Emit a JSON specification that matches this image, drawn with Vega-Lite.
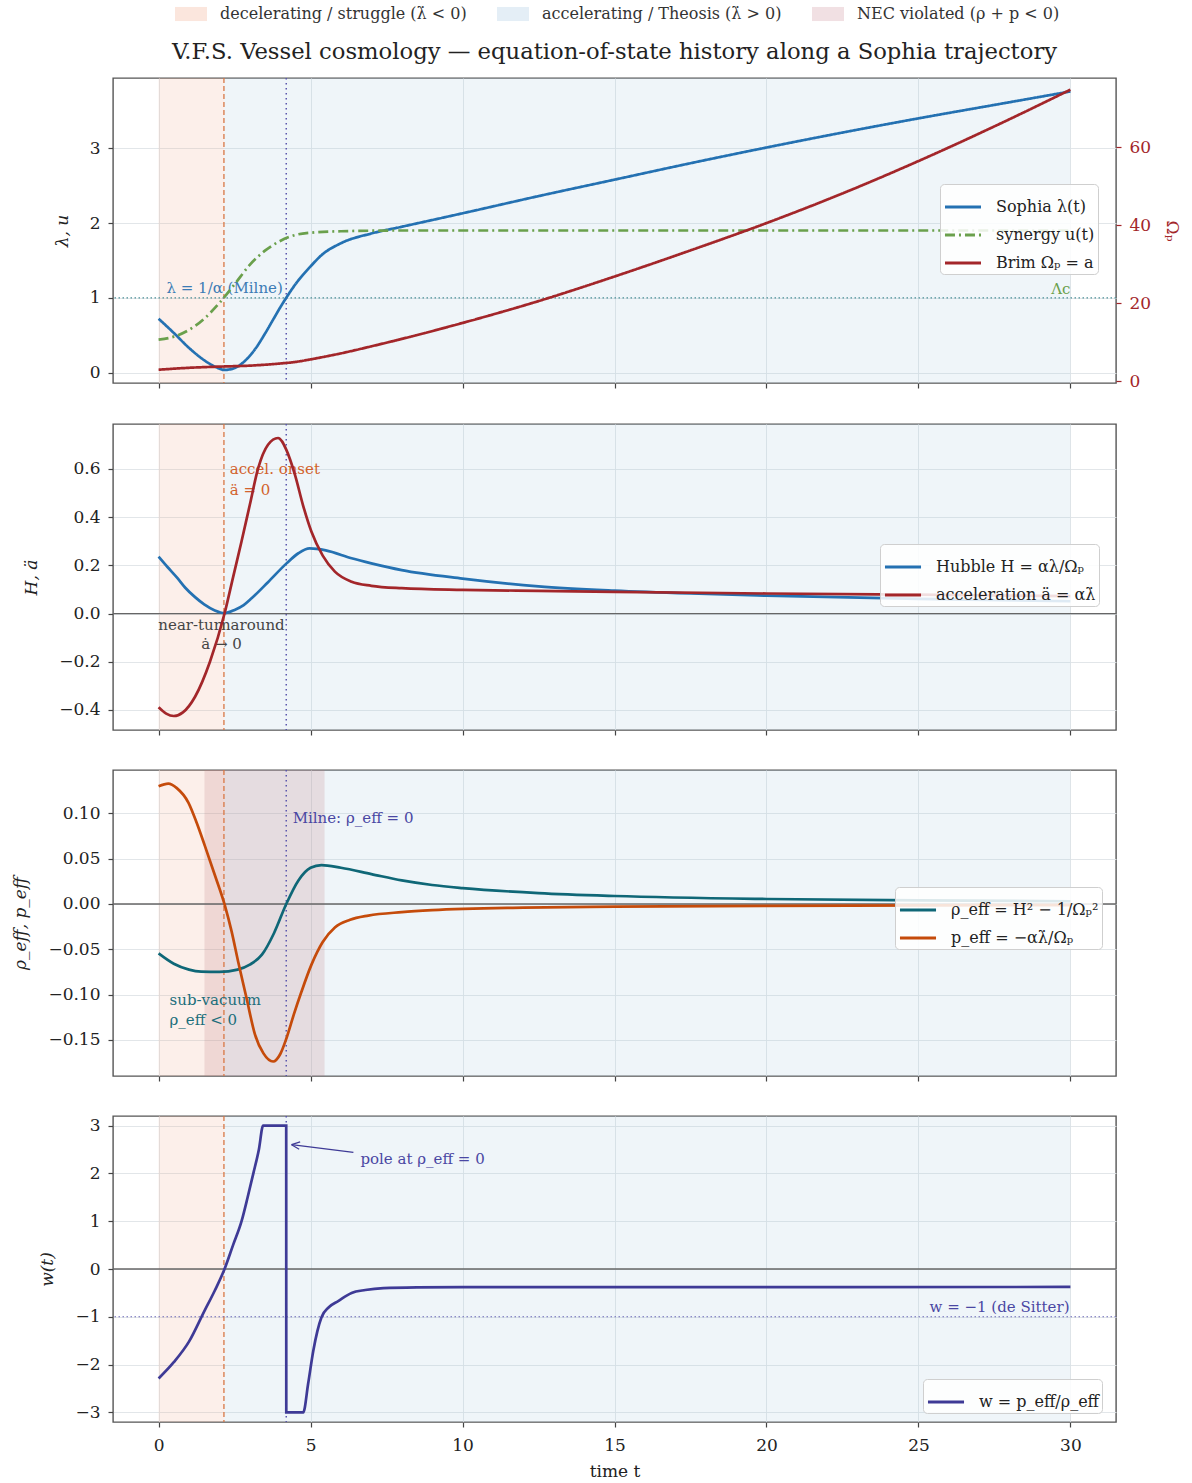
{
"$schema": "https://vega.github.io/schema/vega-lite/v6.json",
"background": "white",
"padding": {"left": 11, "top": 5, "right": 5, "bottom": 5},
"config": {
  "font": "DejaVu Serif",
  "view": {"stroke": "#555", "strokeWidth": 1.4},
  "axis": {"labelFont": "DejaVu Serif", "labelFontSize": 17, "labelColor": "#222", "titleFont": "DejaVu Serif", "titleFontSize": 17, "titleFontWeight": "normal", "titleColor": "#222", "tickColor": "#444", "tickSize": 5, "tickWidth": 1.2, "domain": false, "gridColor": "#dfe3e6", "gridWidth": 0.9},
  "axisY": {"labelPadding": 8, "titlePadding": 18},
  "axisX": {"labelPadding": 10, "titlePadding": 10},
  "legend": {"labelFont": "DejaVu Serif", "labelFontSize": 16, "labelColor": "#222", "labelLimit": 0, "symbolType": "stroke", "symbolSize": 1300, "symbolStrokeWidth": 3, "rowPadding": 0, "padding": 3, "strokeColor": "#cfcfcf", "fillColor": "rgba(255,255,255,0.85)", "cornerRadius": 4, "labelOffset": 13},
  "text": {"font": "DejaVu Serif", "fontSize": 15}
},
"datasets": {
  "regions": [{"t": 0, "t2": 2.15, "r": "decel"}, {"t": 2.15, "t2": 30, "r": "accel"}, {"t": 1.51, "t2": 5.46, "r": "nec"}],
  "onset": [{"t": 2.15}],
  "milne": [{"t": 4.2}],
  "zero": [{"v": 0}],
  "one": [{"v": 1}],
  "m1": [{"v": -1}],
  "a1": [{"t": 0.26, "v": 1, "txt": "λ = 1/α (Milne)"}],
  "a1b": [{"t": 30, "v": 1, "txt": "Λc"}],
  "a2": [{"t": 2.34, "v": 0.6, "txt": "accel. onset\nä = 0"}],
  "a2b": [{"t": 2.07, "v": -0.0455, "txt": "near-turnaround\nȧ → 0"}],
  "a3": [{"t": 4.41, "v": 0.0945, "txt": "Milne: ρ_eff = 0"}],
  "a3b": [{"t": 0.36, "v": -0.1066, "txt": "sub-vacuum\nρ_eff < 0"}],
  "a4": [{"t": 6.64, "v": 2.31, "txt": "pole at ρ_eff = 0"}],
  "a4b": [{"t": 29.97, "v": -1, "txt": "w = −1 (de Sitter)"}],
  "arrow": [{"t": 6.41, "v": 2.44, "t2": 4.375, "v2": 2.6}, {"t": 4.375, "v": 2.6, "t2": 4.625, "v2": 2.504}, {"t": 4.375, "v": 2.6, "t2": 4.657, "v2": 2.66}],
  "p1": [
    {"s": "Sophia λ(t)", "t": 0, "v": 0.72}, {"s": "Sophia λ(t)", "t": 0.5, "v": 0.53}, {"s": "Sophia λ(t)", "t": 1, "v": 0.33}, {"s": "Sophia λ(t)", "t": 1.5, "v": 0.165}, {"s": "Sophia λ(t)", "t": 1.9, "v": 0.07}, {"s": "Sophia λ(t)", "t": 2.17, "v": 0.035}, {"s": "Sophia λ(t)", "t": 2.5, "v": 0.06}, {"s": "Sophia λ(t)", "t": 2.8, "v": 0.14}, {"s": "Sophia λ(t)", "t": 3.17, "v": 0.31}, {"s": "Sophia λ(t)", "t": 3.5, "v": 0.52}, {"s": "Sophia λ(t)", "t": 3.8, "v": 0.73}, {"s": "Sophia λ(t)", "t": 4.0, "v": 0.87}, {"s": "Sophia λ(t)", "t": 4.2, "v": 1.0}, {"s": "Sophia λ(t)", "t": 4.5, "v": 1.18}, {"s": "Sophia λ(t)", "t": 5.0, "v": 1.42}, {"s": "Sophia λ(t)", "t": 5.36, "v": 1.57}, {"s": "Sophia λ(t)", "t": 6, "v": 1.73}, {"s": "Sophia λ(t)", "t": 7, "v": 1.86}, {"s": "Sophia λ(t)", "t": 8, "v": 1.95}, {"s": "Sophia λ(t)", "t": 10, "v": 2.13}, {"s": "Sophia λ(t)", "t": 12.5, "v": 2.36}, {"s": "Sophia λ(t)", "t": 15, "v": 2.58}, {"s": "Sophia λ(t)", "t": 17.5, "v": 2.8}, {"s": "Sophia λ(t)", "t": 20, "v": 3.01}, {"s": "Sophia λ(t)", "t": 22.5, "v": 3.21}, {"s": "Sophia λ(t)", "t": 25, "v": 3.4}, {"s": "Sophia λ(t)", "t": 27.5, "v": 3.58}, {"s": "Sophia λ(t)", "t": 30, "v": 3.76},
    {"s": "synergy u(t)", "t": 0, "v": 0.44}, {"s": "synergy u(t)", "t": 0.5, "v": 0.48}, {"s": "synergy u(t)", "t": 1, "v": 0.57}, {"s": "synergy u(t)", "t": 1.5, "v": 0.72}, {"s": "synergy u(t)", "t": 2, "v": 0.93}, {"s": "synergy u(t)", "t": 2.5, "v": 1.18}, {"s": "synergy u(t)", "t": 3, "v": 1.44}, {"s": "synergy u(t)", "t": 3.5, "v": 1.63}, {"s": "synergy u(t)", "t": 4, "v": 1.76}, {"s": "synergy u(t)", "t": 4.5, "v": 1.84}, {"s": "synergy u(t)", "t": 5, "v": 1.87}, {"s": "synergy u(t)", "t": 6, "v": 1.89}, {"s": "synergy u(t)", "t": 8, "v": 1.9}, {"s": "synergy u(t)", "t": 12, "v": 1.9}, {"s": "synergy u(t)", "t": 20, "v": 1.9}, {"s": "synergy u(t)", "t": 30, "v": 1.9}
  ],
  "p1r": [
    {"s": "Brim Ωₚ = a", "t": 0, "v": 3.0}, {"s": "Brim Ωₚ = a", "t": 1, "v": 3.5}, {"s": "Brim Ωₚ = a", "t": 2, "v": 3.8}, {"s": "Brim Ωₚ = a", "t": 3, "v": 4.05}, {"s": "Brim Ωₚ = a", "t": 4, "v": 4.6}, {"s": "Brim Ωₚ = a", "t": 4.5, "v": 5.0}, {"s": "Brim Ωₚ = a", "t": 5, "v": 5.65}, {"s": "Brim Ωₚ = a", "t": 5.5, "v": 6.4}, {"s": "Brim Ωₚ = a", "t": 6, "v": 7.2}, {"s": "Brim Ωₚ = a", "t": 7, "v": 9.0}, {"s": "Brim Ωₚ = a", "t": 8, "v": 10.9}, {"s": "Brim Ωₚ = a", "t": 10, "v": 15.0}, {"s": "Brim Ωₚ = a", "t": 12.5, "v": 20.6}, {"s": "Brim Ωₚ = a", "t": 15, "v": 26.9}, {"s": "Brim Ωₚ = a", "t": 17.5, "v": 33.6}, {"s": "Brim Ωₚ = a", "t": 20, "v": 40.6}, {"s": "Brim Ωₚ = a", "t": 22.5, "v": 48.2}, {"s": "Brim Ωₚ = a", "t": 25, "v": 56.5}, {"s": "Brim Ωₚ = a", "t": 27.5, "v": 65.4}, {"s": "Brim Ωₚ = a", "t": 30, "v": 74.8}
  ],
  "p2": [
    {"s": "Hubble H = αλ/Ωₚ", "t": 0, "v": 0.236}, {"s": "Hubble H = αλ/Ωₚ", "t": 0.3, "v": 0.192}, {"s": "Hubble H = αλ/Ωₚ", "t": 0.6, "v": 0.15}, {"s": "Hubble H = αλ/Ωₚ", "t": 0.87, "v": 0.108}, {"s": "Hubble H = αλ/Ωₚ", "t": 1.2, "v": 0.068}, {"s": "Hubble H = αλ/Ωₚ", "t": 1.5, "v": 0.038}, {"s": "Hubble H = αλ/Ωₚ", "t": 1.85, "v": 0.013}, {"s": "Hubble H = αλ/Ωₚ", "t": 2.17, "v": 0.002}, {"s": "Hubble H = αλ/Ωₚ", "t": 2.5, "v": 0.015}, {"s": "Hubble H = αλ/Ωₚ", "t": 2.8, "v": 0.035}, {"s": "Hubble H = αλ/Ωₚ", "t": 3.06, "v": 0.063}, {"s": "Hubble H = αλ/Ωₚ", "t": 3.6, "v": 0.13}, {"s": "Hubble H = αλ/Ωₚ", "t": 4.21, "v": 0.208}, {"s": "Hubble H = αλ/Ωₚ", "t": 4.6, "v": 0.25}, {"s": "Hubble H = αλ/Ωₚ", "t": 4.97, "v": 0.27}, {"s": "Hubble H = αλ/Ωₚ", "t": 5.5, "v": 0.262}, {"s": "Hubble H = αλ/Ωₚ", "t": 6.35, "v": 0.229}, {"s": "Hubble H = αλ/Ωₚ", "t": 7, "v": 0.208}, {"s": "Hubble H = αλ/Ωₚ", "t": 8, "v": 0.18}, {"s": "Hubble H = αλ/Ωₚ", "t": 10, "v": 0.145}, {"s": "Hubble H = αλ/Ωₚ", "t": 12.5, "v": 0.113}, {"s": "Hubble H = αλ/Ωₚ", "t": 15, "v": 0.095}, {"s": "Hubble H = αλ/Ωₚ", "t": 17.5, "v": 0.083}, {"s": "Hubble H = αλ/Ωₚ", "t": 20, "v": 0.074}, {"s": "Hubble H = αλ/Ωₚ", "t": 25, "v": 0.061}, {"s": "Hubble H = αλ/Ωₚ", "t": 30, "v": 0.051},
    {"s": "acceleration ä = αλ̇", "t": 0, "v": -0.389}, {"s": "acceleration ä = αλ̇", "t": 0.25, "v": -0.415}, {"s": "acceleration ä = αλ̇", "t": 0.5, "v": -0.425}, {"s": "acceleration ä = αλ̇", "t": 0.8, "v": -0.41}, {"s": "acceleration ä = αλ̇", "t": 1.2, "v": -0.345}, {"s": "acceleration ä = αλ̇", "t": 1.69, "v": -0.2}, {"s": "acceleration ä = αλ̇", "t": 2.17, "v": 0}, {"s": "acceleration ä = αλ̇", "t": 2.45, "v": 0.15}, {"s": "acceleration ä = αλ̇", "t": 2.73, "v": 0.3}, {"s": "acceleration ä = αλ̇", "t": 3.0, "v": 0.45}, {"s": "acceleration ä = αλ̇", "t": 3.27, "v": 0.6}, {"s": "acceleration ä = αλ̇", "t": 3.6, "v": 0.7}, {"s": "acceleration ä = αλ̇", "t": 3.93, "v": 0.728}, {"s": "acceleration ä = αλ̇", "t": 4.2, "v": 0.68}, {"s": "acceleration ä = αλ̇", "t": 4.49, "v": 0.574}, {"s": "acceleration ä = αλ̇", "t": 4.75, "v": 0.45}, {"s": "acceleration ä = αλ̇", "t": 5.03, "v": 0.339}, {"s": "acceleration ä = αλ̇", "t": 5.4, "v": 0.24}, {"s": "acceleration ä = αλ̇", "t": 5.8, "v": 0.174}, {"s": "acceleration ä = αλ̇", "t": 6.35, "v": 0.132}, {"s": "acceleration ä = αλ̇", "t": 7, "v": 0.115}, {"s": "acceleration ä = αλ̇", "t": 8, "v": 0.105}, {"s": "acceleration ä = αλ̇", "t": 10, "v": 0.098}, {"s": "acceleration ä = αλ̇", "t": 12.5, "v": 0.094}, {"s": "acceleration ä = αλ̇", "t": 15, "v": 0.09}, {"s": "acceleration ä = αλ̇", "t": 20, "v": 0.083}, {"s": "acceleration ä = αλ̇", "t": 25, "v": 0.078}, {"s": "acceleration ä = αλ̇", "t": 30, "v": 0.072}
  ],
  "p3": [
    {"s": "ρ_eff = H² − 1/Ωₚ²", "t": 0, "v": -0.0546}, {"s": "ρ_eff = H² − 1/Ωₚ²", "t": 0.5, "v": -0.066}, {"s": "ρ_eff = H² − 1/Ωₚ²", "t": 1, "v": -0.0725}, {"s": "ρ_eff = H² − 1/Ωₚ²", "t": 1.4, "v": -0.0747}, {"s": "ρ_eff = H² − 1/Ωₚ²", "t": 2, "v": -0.075}, {"s": "ρ_eff = H² − 1/Ωₚ²", "t": 2.6, "v": -0.0725}, {"s": "ρ_eff = H² − 1/Ωₚ²", "t": 3.0, "v": -0.067}, {"s": "ρ_eff = H² − 1/Ωₚ²", "t": 3.4, "v": -0.056}, {"s": "ρ_eff = H² − 1/Ωₚ²", "t": 3.8, "v": -0.032}, {"s": "ρ_eff = H² − 1/Ωₚ²", "t": 4.2, "v": 0}, {"s": "ρ_eff = H² − 1/Ωₚ²", "t": 4.6, "v": 0.026}, {"s": "ρ_eff = H² − 1/Ωₚ²", "t": 5.0, "v": 0.04}, {"s": "ρ_eff = H² − 1/Ωₚ²", "t": 5.36, "v": 0.043}, {"s": "ρ_eff = H² − 1/Ωₚ²", "t": 6, "v": 0.04}, {"s": "ρ_eff = H² − 1/Ωₚ²", "t": 7, "v": 0.033}, {"s": "ρ_eff = H² − 1/Ωₚ²", "t": 8, "v": 0.026}, {"s": "ρ_eff = H² − 1/Ωₚ²", "t": 9, "v": 0.021}, {"s": "ρ_eff = H² − 1/Ωₚ²", "t": 10, "v": 0.0176}, {"s": "ρ_eff = H² − 1/Ωₚ²", "t": 12.5, "v": 0.012}, {"s": "ρ_eff = H² − 1/Ωₚ²", "t": 15, "v": 0.0088}, {"s": "ρ_eff = H² − 1/Ωₚ²", "t": 20, "v": 0.0055}, {"s": "ρ_eff = H² − 1/Ωₚ²", "t": 25, "v": 0.004}, {"s": "ρ_eff = H² − 1/Ωₚ²", "t": 30, "v": 0.003},
    {"s": "p_eff = −αλ̇/Ωₚ", "t": 0, "v": 0.130}, {"s": "p_eff = −αλ̇/Ωₚ", "t": 0.32, "v": 0.133}, {"s": "p_eff = −αλ̇/Ωₚ", "t": 0.6, "v": 0.128}, {"s": "p_eff = −αλ̇/Ωₚ", "t": 0.98, "v": 0.112}, {"s": "p_eff = −αλ̇/Ωₚ", "t": 1.25, "v": 0.09}, {"s": "p_eff = −αλ̇/Ωₚ", "t": 1.52, "v": 0.0645}, {"s": "p_eff = −αλ̇/Ωₚ", "t": 1.85, "v": 0.032}, {"s": "p_eff = −αλ̇/Ωₚ", "t": 2.18, "v": -0.0015}, {"s": "p_eff = −αλ̇/Ωₚ", "t": 2.4, "v": -0.03}, {"s": "p_eff = −αλ̇/Ωₚ", "t": 2.62, "v": -0.064}, {"s": "p_eff = −αλ̇/Ωₚ", "t": 2.9, "v": -0.105}, {"s": "p_eff = −αλ̇/Ωₚ", "t": 3.17, "v": -0.144}, {"s": "p_eff = −αλ̇/Ωₚ", "t": 3.45, "v": -0.165}, {"s": "p_eff = −αλ̇/Ωₚ", "t": 3.77, "v": -0.174}, {"s": "p_eff = −αλ̇/Ωₚ", "t": 4.0, "v": -0.166}, {"s": "p_eff = −αλ̇/Ωₚ", "t": 4.21, "v": -0.148}, {"s": "p_eff = −αλ̇/Ωₚ", "t": 4.45, "v": -0.122}, {"s": "p_eff = −αλ̇/Ωₚ", "t": 4.7, "v": -0.097}, {"s": "p_eff = −αλ̇/Ωₚ", "t": 5.03, "v": -0.067}, {"s": "p_eff = −αλ̇/Ωₚ", "t": 5.4, "v": -0.042}, {"s": "p_eff = −αλ̇/Ωₚ", "t": 5.8, "v": -0.026}, {"s": "p_eff = −αλ̇/Ωₚ", "t": 6.3, "v": -0.0175}, {"s": "p_eff = −αλ̇/Ωₚ", "t": 6.9, "v": -0.0128}, {"s": "p_eff = −αλ̇/Ωₚ", "t": 8, "v": -0.009}, {"s": "p_eff = −αλ̇/Ωₚ", "t": 9, "v": -0.0068}, {"s": "p_eff = −αλ̇/Ωₚ", "t": 12, "v": -0.004}, {"s": "p_eff = −αλ̇/Ωₚ", "t": 15, "v": -0.003}, {"s": "p_eff = −αλ̇/Ωₚ", "t": 20, "v": -0.002}, {"s": "p_eff = −αλ̇/Ωₚ", "t": 30, "v": -0.0012}
  ],
  "p4": [
    {"s": "w = p_eff/ρ_eff", "i": 1, "t": 0, "v": -2.29}, {"s": "w = p_eff/ρ_eff", "i": 2, "t": 0.5, "v": -1.95}, {"s": "w = p_eff/ρ_eff", "i": 3, "t": 1.0, "v": -1.52}, {"s": "w = p_eff/ρ_eff", "i": 4, "t": 1.51, "v": -0.875}, {"s": "w = p_eff/ρ_eff", "i": 5, "t": 1.85, "v": -0.45}, {"s": "w = p_eff/ρ_eff", "i": 6, "t": 2.17, "v": 0}, {"s": "w = p_eff/ρ_eff", "i": 7, "t": 2.45, "v": 0.5}, {"s": "w = p_eff/ρ_eff", "i": 8, "t": 2.73, "v": 1.0}, {"s": "w = p_eff/ρ_eff", "i": 9, "t": 2.93, "v": 1.5}, {"s": "w = p_eff/ρ_eff", "i": 10, "t": 3.11, "v": 1.98}, {"s": "w = p_eff/ρ_eff", "i": 11, "t": 3.3, "v": 2.5}, {"s": "w = p_eff/ρ_eff", "i": 12, "t": 3.44, "v": 3.0}, {"s": "w = p_eff/ρ_eff", "i": 13, "t": 4.199, "v": 3.0}, {"s": "w = p_eff/ρ_eff", "i": 14, "t": 4.201, "v": -3.0}, {"s": "w = p_eff/ρ_eff", "i": 15, "t": 4.76, "v": -3.0}, {"s": "w = p_eff/ρ_eff", "i": 16, "t": 4.92, "v": -2.4}, {"s": "w = p_eff/ρ_eff", "i": 17, "t": 5.09, "v": -1.71}, {"s": "w = p_eff/ρ_eff", "i": 18, "t": 5.36, "v": -1.01}, {"s": "w = p_eff/ρ_eff", "i": 19, "t": 5.6, "v": -0.8}, {"s": "w = p_eff/ρ_eff", "i": 20, "t": 5.91, "v": -0.67}, {"s": "w = p_eff/ρ_eff", "i": 21, "t": 6.35, "v": -0.5}, {"s": "w = p_eff/ρ_eff", "i": 22, "t": 6.8, "v": -0.44}, {"s": "w = p_eff/ρ_eff", "i": 23, "t": 7.4, "v": -0.4}, {"s": "w = p_eff/ρ_eff", "i": 24, "t": 8.5, "v": -0.385}, {"s": "w = p_eff/ρ_eff", "i": 25, "t": 10, "v": -0.38}, {"s": "w = p_eff/ρ_eff", "i": 26, "t": 20, "v": -0.38}, {"s": "w = p_eff/ρ_eff", "i": 27, "t": 30, "v": -0.375}
  ]
},
"spacing": 16,
"resolve": {"scale": {"fill": "independent", "stroke": "independent", "strokeDash": "independent"}},
"vconcat": [
  {
    "width": 1003, "height": 1,
    "view": {"stroke": null},
    "data": {"values": [{"r": "decelerating / struggle (λ̇ < 0)"}, {"r": "accelerating / Theosis (λ̇ > 0)"}, {"r": "NEC violated (ρ + p < 0)"}]},
    "mark": {"type": "rect", "opacity": 0},
    "encoding": {
      "fill": {"field": "r", "type": "nominal",
        "scale": {"domain": ["decelerating / struggle (λ̇ < 0)", "accelerating / Theosis (λ̇ > 0)", "NEC violated (ρ + p < 0)"], "range": ["#fbe6dd", "#e4eef6", "#f1e0e3"]},
        "legend": {"orient": "none", "legendX": 70, "legendY": 0, "direction": "horizontal", "columns": 3, "title": null, "symbolType": "M-2,-0.88H2V0.88H-2Z", "symbolSize": 256, "symbolOpacity": 1, "symbolStrokeWidth": 0, "labelFontSize": 16, "labelColor": "#333", "columnPadding": 30, "padding": 0, "strokeColor": "transparent", "fillColor": "transparent", "labelOffset": 21}}
    }
  },
  {
    "spacing": 31,
    "resolve": {"scale": {"x": "independent", "y": "independent", "fill": "independent", "stroke": "independent", "strokeDash": "independent"}},
    "vconcat": [
      {
        "width": 1003, "height": 305,
        "title": {"text": "V.F.S. Vessel cosmology — equation-of-state history along a Sophia trajectory", "font": "DejaVu Serif", "fontSize": 22.7, "fontWeight": "normal", "color": "#222", "offset": 14, "frame": "group", "anchor": "middle"},
        "resolve": {"scale": {"y": "independent"}},
        "layer": [
          {
            "layer": [
              {"data": {"name": "regions"}, "transform": [{"filter": "datum.r != 'nec'"}], "mark": {"type": "rect", "fillOpacity": 0.2},
               "encoding": {"x": {"field": "t", "type": "quantitative", "scale": {"domain": [-1.5, 31.5], "nice": false, "zero": false}, "axis": {"values": [0, 5, 10, 15, 20, 25, 30], "labels": false, "title": null, "grid": true}}, "x2": {"field": "t2"},
                 "fill": {"field": "r", "type": "nominal", "scale": {"domain": ["decel", "accel", "nec"], "range": ["#f0af96", "#afcde1", "#bd787c"]}, "legend": null}}},
              {"data": {"name": "onset"}, "mark": {"type": "rule", "color": "#d97745", "strokeWidth": 1.3, "strokeDash": [5, 3]}, "encoding": {"x": {"field": "t", "type": "quantitative", "scale": {"domain": [-1.5, 31.5], "nice": false, "zero": false}}}},
              {"data": {"name": "milne"}, "mark": {"type": "rule", "color": "#5a56ad", "strokeWidth": 1.5, "strokeDash": [1.5, 3.5]}, "encoding": {"x": {"field": "t", "type": "quantitative", "scale": {"domain": [-1.5, 31.5], "nice": false, "zero": false}}}},
              {"data": {"name": "one"}, "mark": {"type": "rule", "color": "#4a8f96", "strokeWidth": 1.3, "strokeDash": [1.5, 2.5]}, "encoding": {"y": {"field": "v", "type": "quantitative", "scale": {"domain": [-0.14, 3.94], "nice": false, "zero": false}}}},
              {"data": {"name": "a1"}, "mark": {"type": "text", "align": "left", "baseline": "bottom", "dy": -2, "color": "#3b7bb5"},
               "encoding": {"x": {"field": "t", "type": "quantitative", "scale": {"domain": [-1.5, 31.5], "nice": false, "zero": false}}, "y": {"field": "v", "type": "quantitative", "scale": {"domain": [-0.14, 3.94], "nice": false, "zero": false}}, "text": {"field": "txt"}}},
              {"data": {"name": "a1b"}, "mark": {"type": "text", "align": "right", "baseline": "bottom", "dy": -1, "color": "#6aa04c", "fontSize": 15},
               "encoding": {"x": {"field": "t", "type": "quantitative", "scale": {"domain": [-1.5, 31.5], "nice": false, "zero": false}}, "y": {"field": "v", "type": "quantitative", "scale": {"domain": [-0.14, 3.94], "nice": false, "zero": false}}, "text": {"field": "txt"}}},
              {"data": {"name": "p1"}, "mark": {"type": "line", "strokeWidth": 2.7, "interpolate": "monotone"},
               "encoding": {"x": {"field": "t", "type": "quantitative", "scale": {"domain": [-1.5, 31.5], "nice": false, "zero": false}},
                 "y": {"field": "v", "type": "quantitative", "scale": {"domain": [-0.14, 3.94], "nice": false, "zero": false}, "axis": {"values": [0, 1, 2, 3], "format": "d", "title": "λ, u", "titleFontStyle": "italic", "grid": true}},
                 "stroke": {"field": "s", "type": "nominal", "scale": {"domain": ["Sophia λ(t)", "synergy u(t)", "Brim Ωₚ = a"], "range": ["#2471b2", "#6aa04c", "#a3262a"]}, "legend": {"orient": "none", "legendX": 827, "legendY": 106, "title": null}},
                 "strokeDash": {"field": "s", "type": "nominal", "scale": {"domain": ["Sophia λ(t)", "synergy u(t)", "Brim Ωₚ = a"], "range": [[1, 0], [10, 4, 2, 4], [1, 0]]}, "legend": {"orient": "none", "legendX": 827, "legendY": 106, "title": null}}}}
            ]
          },
          {
            "layer": [
              {"data": {"name": "p1r"}, "mark": {"type": "line", "strokeWidth": 2.7, "interpolate": "monotone"},
               "encoding": {"x": {"field": "t", "type": "quantitative", "scale": {"domain": [-1.5, 31.5], "nice": false, "zero": false}},
                 "y": {"field": "v", "type": "quantitative", "scale": {"domain": [-0.4, 77.8], "nice": false, "zero": false}, "axis": {"orient": "right", "values": [0, 20, 40, 60], "title": "Ωₚ", "grid": false, "labelColor": "#a3262a", "tickColor": "#a3262a", "titleColor": "#a3262a", "titlePadding": 12}},
                 "stroke": {"field": "s", "type": "nominal", "scale": {"domain": ["Sophia λ(t)", "synergy u(t)", "Brim Ωₚ = a"], "range": ["#2471b2", "#6aa04c", "#a3262a"]}, "legend": {"orient": "none", "legendX": 827, "legendY": 106, "title": null}},
                 "strokeDash": {"field": "s", "type": "nominal", "scale": {"domain": ["Sophia λ(t)", "synergy u(t)", "Brim Ωₚ = a"], "range": [[1, 0], [10, 4, 2, 4], [1, 0]]}, "legend": {"orient": "none", "legendX": 827, "legendY": 106, "title": null}}}}
            ]
          }
        ]
      },
      {
        "width": 1003, "height": 306,
        "layer": [
          {"data": {"name": "regions"}, "transform": [{"filter": "datum.r != 'nec'"}], "mark": {"type": "rect", "fillOpacity": 0.2},
           "encoding": {"x": {"field": "t", "type": "quantitative", "scale": {"domain": [-1.5, 31.5], "nice": false, "zero": false}, "axis": {"values": [0, 5, 10, 15, 20, 25, 30], "labels": false, "title": null, "grid": true}}, "x2": {"field": "t2"},
             "fill": {"field": "r", "type": "nominal", "scale": {"domain": ["decel", "accel", "nec"], "range": ["#f0af96", "#afcde1", "#bd787c"]}, "legend": null}}},
          {"data": {"name": "onset"}, "mark": {"type": "rule", "color": "#d97745", "strokeWidth": 1.3, "strokeDash": [5, 3]}, "encoding": {"x": {"field": "t", "type": "quantitative", "scale": {"domain": [-1.5, 31.5], "nice": false, "zero": false}}}},
          {"data": {"name": "milne"}, "mark": {"type": "rule", "color": "#5a56ad", "strokeWidth": 1.5, "strokeDash": [1.5, 3.5]}, "encoding": {"x": {"field": "t", "type": "quantitative", "scale": {"domain": [-1.5, 31.5], "nice": false, "zero": false}}}},
          {"data": {"name": "zero"}, "mark": {"type": "rule", "color": "#666", "strokeWidth": 1.3}, "encoding": {"y": {"field": "v", "type": "quantitative", "scale": {"domain": [-0.483, 0.786], "nice": false, "zero": false}}}},
          {"data": {"name": "a2"}, "mark": {"type": "text", "align": "left", "baseline": "middle", "lineBreak": "\n", "lineHeight": 21, "color": "#d2622d"},
           "encoding": {"x": {"field": "t", "type": "quantitative", "scale": {"domain": [-1.5, 31.5], "nice": false, "zero": false}}, "y": {"field": "v", "type": "quantitative", "scale": {"domain": [-0.483, 0.786], "nice": false, "zero": false}}, "text": {"field": "txt"}}},
          {"data": {"name": "a2b"}, "mark": {"type": "text", "align": "center", "baseline": "middle", "lineBreak": "\n", "lineHeight": 19, "color": "#444"},
           "encoding": {"x": {"field": "t", "type": "quantitative", "scale": {"domain": [-1.5, 31.5], "nice": false, "zero": false}}, "y": {"field": "v", "type": "quantitative", "scale": {"domain": [-0.483, 0.786], "nice": false, "zero": false}}, "text": {"field": "txt"}}},
          {"data": {"name": "p2"}, "mark": {"type": "line", "strokeWidth": 2.7, "interpolate": "monotone"},
           "encoding": {"x": {"field": "t", "type": "quantitative", "scale": {"domain": [-1.5, 31.5], "nice": false, "zero": false}},
             "y": {"field": "v", "type": "quantitative", "scale": {"domain": [-0.483, 0.786], "nice": false, "zero": false}, "axis": {"values": [-0.4, -0.2, 0, 0.2, 0.4, 0.6], "format": ".1f", "title": "H, ä", "titleFontStyle": "italic", "grid": true}},
             "stroke": {"field": "s", "type": "nominal", "scale": {"domain": ["Hubble H = αλ/Ωₚ", "acceleration ä = αλ̇"], "range": ["#2471b2", "#a3262a"]}, "legend": {"orient": "none", "legendX": 767, "legendY": 120, "title": null}}}}
        ]
      },
      {
        "width": 1003, "height": 306,
        "layer": [
          {"data": {"name": "regions"}, "mark": {"type": "rect", "fillOpacity": 0.2},
           "encoding": {"x": {"field": "t", "type": "quantitative", "scale": {"domain": [-1.5, 31.5], "nice": false, "zero": false}, "axis": {"values": [0, 5, 10, 15, 20, 25, 30], "labels": false, "title": null, "grid": true}}, "x2": {"field": "t2"},
             "fill": {"field": "r", "type": "nominal", "scale": {"domain": ["decel", "accel", "nec"], "range": ["#f0af96", "#afcde1", "#bd787c"]}, "legend": null}}},
          {"data": {"name": "onset"}, "mark": {"type": "rule", "color": "#d97745", "strokeWidth": 1.3, "strokeDash": [5, 3]}, "encoding": {"x": {"field": "t", "type": "quantitative", "scale": {"domain": [-1.5, 31.5], "nice": false, "zero": false}}}},
          {"data": {"name": "milne"}, "mark": {"type": "rule", "color": "#5a56ad", "strokeWidth": 1.5, "strokeDash": [1.5, 3.5]}, "encoding": {"x": {"field": "t", "type": "quantitative", "scale": {"domain": [-1.5, 31.5], "nice": false, "zero": false}}}},
          {"data": {"name": "zero"}, "mark": {"type": "rule", "color": "#666", "strokeWidth": 1.3}, "encoding": {"y": {"field": "v", "type": "quantitative", "scale": {"domain": [-0.19, 0.148], "nice": false, "zero": false}}}},
          {"data": {"name": "a3"}, "mark": {"type": "text", "align": "left", "baseline": "middle", "color": "#4a47a3"},
           "encoding": {"x": {"field": "t", "type": "quantitative", "scale": {"domain": [-1.5, 31.5], "nice": false, "zero": false}}, "y": {"field": "v", "type": "quantitative", "scale": {"domain": [-0.19, 0.148], "nice": false, "zero": false}}, "text": {"field": "txt"}}},
          {"data": {"name": "a3b"}, "mark": {"type": "text", "align": "left", "baseline": "middle", "lineBreak": "\n", "lineHeight": 20, "color": "#1b6e7b"},
           "encoding": {"x": {"field": "t", "type": "quantitative", "scale": {"domain": [-1.5, 31.5], "nice": false, "zero": false}}, "y": {"field": "v", "type": "quantitative", "scale": {"domain": [-0.19, 0.148], "nice": false, "zero": false}}, "text": {"field": "txt"}}},
          {"data": {"name": "p3"}, "mark": {"type": "line", "strokeWidth": 2.7, "interpolate": "monotone"},
           "encoding": {"x": {"field": "t", "type": "quantitative", "scale": {"domain": [-1.5, 31.5], "nice": false, "zero": false}},
             "y": {"field": "v", "type": "quantitative", "scale": {"domain": [-0.19, 0.148], "nice": false, "zero": false}, "axis": {"values": [-0.15, -0.1, -0.05, 0, 0.05, 0.1], "format": ".2f", "title": "ρ_eff, p_eff", "titleFontStyle": "italic", "grid": true}},
             "stroke": {"field": "s", "type": "nominal", "scale": {"domain": ["ρ_eff = H² − 1/Ωₚ²", "p_eff = −αλ̇/Ωₚ"], "range": ["#0f6777", "#c54b0b"]}, "legend": {"orient": "none", "legendX": 782, "legendY": 117, "title": null}}}}
        ]
      },
      {
        "width": 1003, "height": 306,
        "layer": [
          {"data": {"name": "regions"}, "transform": [{"filter": "datum.r != 'nec'"}], "mark": {"type": "rect", "fillOpacity": 0.2},
           "encoding": {"x": {"field": "t", "type": "quantitative", "scale": {"domain": [-1.5, 31.5], "nice": false, "zero": false}, "axis": {"values": [0, 5, 10, 15, 20, 25, 30], "format": "d", "title": "time t", "grid": true}}, "x2": {"field": "t2"},
             "fill": {"field": "r", "type": "nominal", "scale": {"domain": ["decel", "accel", "nec"], "range": ["#f0af96", "#afcde1", "#bd787c"]}, "legend": null}}},
          {"data": {"name": "onset"}, "mark": {"type": "rule", "color": "#d97745", "strokeWidth": 1.3, "strokeDash": [5, 3]}, "encoding": {"x": {"field": "t", "type": "quantitative", "scale": {"domain": [-1.5, 31.5], "nice": false, "zero": false}}}},
          {"data": {"name": "milne"}, "mark": {"type": "rule", "color": "#5a56ad", "strokeWidth": 1.5, "strokeDash": [1.5, 3.5]}, "encoding": {"x": {"field": "t", "type": "quantitative", "scale": {"domain": [-1.5, 31.5], "nice": false, "zero": false}}}},
          {"data": {"name": "zero"}, "mark": {"type": "rule", "color": "#666", "strokeWidth": 1.3}, "encoding": {"y": {"field": "v", "type": "quantitative", "scale": {"domain": [-3.2, 3.2], "nice": false, "zero": false}}}},
          {"data": {"name": "m1"}, "mark": {"type": "rule", "color": "#6c68b8", "strokeWidth": 1.1, "strokeDash": [1.5, 2.5]}, "encoding": {"y": {"field": "v", "type": "quantitative", "scale": {"domain": [-3.2, 3.2], "nice": false, "zero": false}}}},
          {"data": {"name": "a4"}, "mark": {"type": "text", "align": "left", "baseline": "middle", "color": "#4a47a3"},
           "encoding": {"x": {"field": "t", "type": "quantitative", "scale": {"domain": [-1.5, 31.5], "nice": false, "zero": false}}, "y": {"field": "v", "type": "quantitative", "scale": {"domain": [-3.2, 3.2], "nice": false, "zero": false}}, "text": {"field": "txt"}}},
          {"data": {"name": "a4b"}, "mark": {"type": "text", "align": "right", "baseline": "bottom", "dy": -2, "color": "#4a47a3"},
           "encoding": {"x": {"field": "t", "type": "quantitative", "scale": {"domain": [-1.5, 31.5], "nice": false, "zero": false}}, "y": {"field": "v", "type": "quantitative", "scale": {"domain": [-3.2, 3.2], "nice": false, "zero": false}}, "text": {"field": "txt"}}},
          {"data": {"name": "arrow"}, "mark": {"type": "rule", "color": "#3e3a96", "strokeWidth": 1.2},
           "encoding": {"x": {"field": "t", "type": "quantitative", "scale": {"domain": [-1.5, 31.5], "nice": false, "zero": false}}, "x2": {"field": "t2"}, "y": {"field": "v", "type": "quantitative", "scale": {"domain": [-3.2, 3.2], "nice": false, "zero": false}}, "y2": {"field": "v2"}}},
          {"data": {"name": "p4"}, "mark": {"type": "line", "strokeWidth": 2.7, "interpolate": "monotone"},
           "encoding": {"x": {"field": "t", "type": "quantitative", "scale": {"domain": [-1.5, 31.5], "nice": false, "zero": false}},
             "y": {"field": "v", "type": "quantitative", "scale": {"domain": [-3.2, 3.2], "nice": false, "zero": false}, "axis": {"values": [-3, -2, -1, 0, 1, 2, 3], "format": "d", "title": "w(t)", "titleFontStyle": "italic", "grid": true}},
             "order": {"field": "i", "type": "quantitative"},
             "stroke": {"field": "s", "type": "nominal", "scale": {"domain": ["w = p_eff/ρ_eff"], "range": ["#3e3a96"]}, "legend": {"orient": "none", "legendX": 810, "legendY": 263, "title": null}}}}
        ]
      }
    ]
  }
]
}
